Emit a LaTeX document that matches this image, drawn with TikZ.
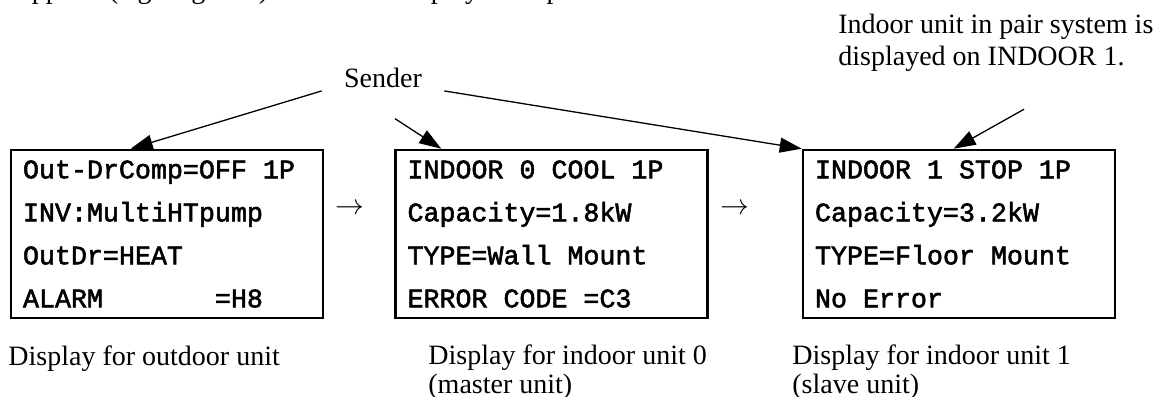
\documentclass[tikz,border=0pt]{standalone}
\usepackage{fontspec}
\setmainfont{Liberation Serif}
\newfontfamily\lcdfont[FakeBold=2]{Liberation Mono}
\usetikzlibrary{arrows.meta,positioning}
\newcommand\lcdsp{\hphantom{0}}% one empty LCD cell

\tikzset{
  lcdbox/.style={draw, line width=1.3pt, rectangle, minimum width=156pt, minimum height=84pt,
    inner xsep=6pt, inner ysep=0pt, text width=144pt, align=left,
    font=\lcdfont\fontsize{13.33}{21.5}\selectfont},
  caption/.style={inner sep=0pt, align=left, font=\fontsize{14}{14.5}\selectfont},
  pointer/.style={line width=0.65pt, -{Triangle[length=11pt,width=7.5pt]}},
}

\begin{document}
\begin{tikzpicture}[x=0.5pt,y=0.5pt]
  \useasboundingbox (0,0) rectangle (1166,396);
  \clip (0,0) rectangle (1166,396);

  % end of the running text above
  \node[caption, anchor=base west] (lead) at (-2,397) {d applied (e.g. Fig. 4-1). The LCD display examples are shown below.};

  % LCD displays
  \node[lcdbox] (outdoor) at (167,162) {Out-DrComp=OFF\lcdsp 1P\\INV:MultiHTpump\\OutDr=HEAT\\ALARM\lcdsp\lcdsp\lcdsp\lcdsp\lcdsp\lcdsp\lcdsp=H8};
  \node[lcdbox] (indoor0) at (551.5,162) {INDOOR\lcdsp 0\lcdsp COOL\lcdsp 1P\\Capacity=1.8kW\\TYPE=Wall\lcdsp Mount\\ERROR\lcdsp CODE\lcdsp =C3};
  \node[lcdbox] (indoor1) at (959,162) {INDOOR\lcdsp 1\lcdsp STOP\lcdsp 1P\\Capacity=3.2kW\\TYPE=Floor\lcdsp Mount\\No\lcdsp Error};

  % order of the displays
  \node[font=\fontsize{14}{16}\selectfont] (next1) at (350,187) {$\rightarrow$};
  \node[font=\fontsize{14}{16}\selectfont] (next2) at (735,187) {$\rightarrow$};

  % captions
  \node[caption, anchor=north west] (capout) at (8,51) {Display for outdoor unit};
  \node[caption, anchor=north west] (capin0) at (428,52) {Display for indoor unit 0\\(master unit)};
  \node[caption, anchor=north west] (capin1) at (792,52) {Display for indoor unit 1\\(slave unit)};

  % sender and note
  \node[font=\fontsize{14}{16}\selectfont, inner xsep=11pt, inner ysep=2pt, anchor=base] (sender) at (383,308) {Sender};
  \node[caption, font=\fontsize{14}{16}\selectfont, anchor=north west] (note) at (838,382) {Indoor unit in pair system is\\displayed on INDOOR 1.};

  % pointers
  \draw[pointer] ([yshift=-6.25pt]sender.west) -- ([xshift=60.5pt]outdoor.north west);
  \draw[pointer] ([xshift=6pt,yshift=-13pt]sender.south) -- ([xshift=23.5pt]indoor0.north west);
  \draw[pointer] ([yshift=-6.25pt]sender.east) -- (indoor1.north west);
  \draw[pointer] ([xshift=93pt,yshift=-18.5pt]note.south west) -- ([xshift=76pt]indoor1.north west);
\end{tikzpicture}
\end{document}
